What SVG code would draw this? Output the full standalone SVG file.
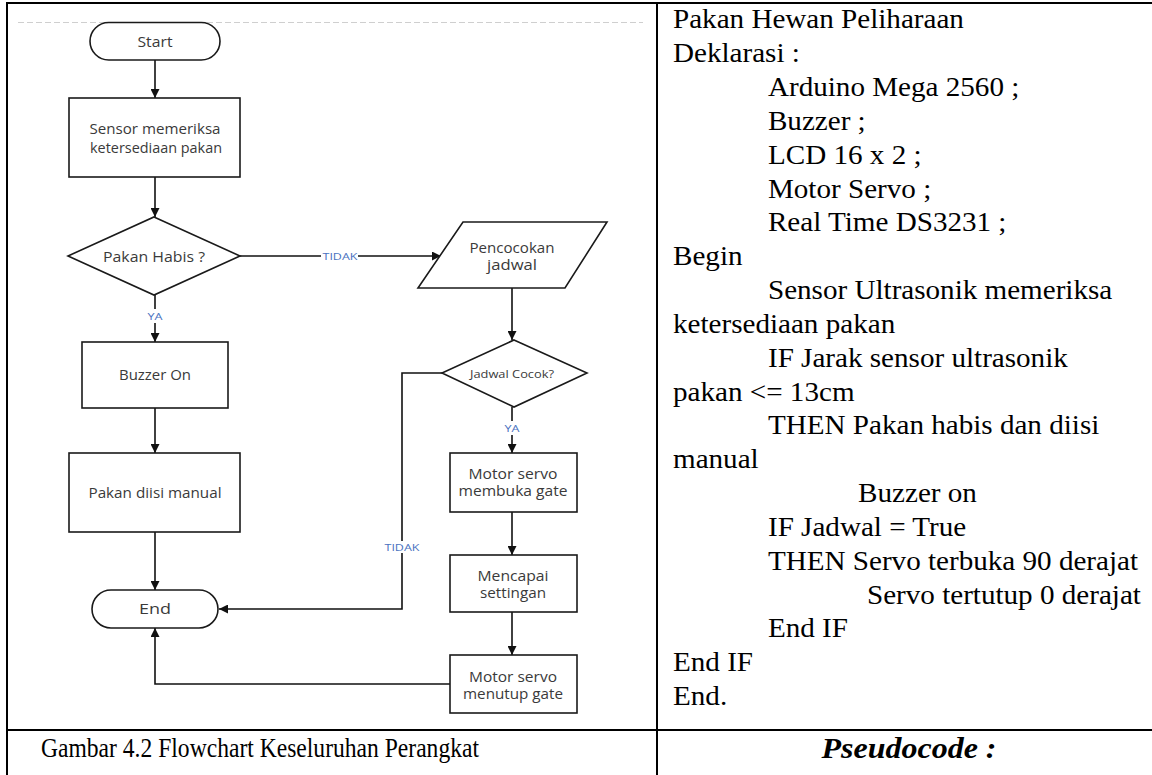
<svg xmlns="http://www.w3.org/2000/svg" width="1152" height="775" viewBox="0 0 1152 775">
<defs>
<marker id="arr" markerWidth="9" markerHeight="9" refX="9" refY="4.5" orient="auto" markerUnits="userSpaceOnUse">
<path d="M0,0 L9,4.5 L0,9 z" fill="#111"/>
</marker>
<style>
.shape{fill:#fff;stroke:#1a1a1a;stroke-width:1.6}
.lbl{font-family:"Open Sans","Liberation Sans",sans-serif;font-size:14px;fill:#3a3a3a;text-anchor:middle;dominant-baseline:central}
.sm{font-size:11.5px}
.cond{font-family:"Open Sans","Liberation Sans",sans-serif;font-size:9.5px;fill:#4a72c0;text-anchor:middle;dominant-baseline:central}
.conn{fill:none;stroke:#111;stroke-width:1.6}
.tbl{stroke:#000;stroke-width:2;fill:none}
.code{font-family:"Liberation Serif","Times New Roman",serif;font-size:28px;fill:#000}
</style>
</defs>
<rect width="1152" height="775" fill="#fff"/>

<g id="table">
<line class="tbl" x1="6" y1="3" x2="1152" y2="3"/>
<line class="tbl" x1="7" y1="3" x2="7" y2="775"/>
<line class="tbl" x1="657" y1="3" x2="657" y2="775"/>
<line class="tbl" x1="6" y1="730" x2="1152" y2="730"/>
<line x1="18" y1="22.5" x2="643" y2="22.5" stroke="#cfcfcf" stroke-width="1" stroke-dasharray="6 3"/>
</g>

<g id="connectors">
<line class="conn" x1="155" y1="60" x2="155" y2="98" marker-end="url(#arr)"/>
<line class="conn" x1="155" y1="177" x2="155" y2="217" marker-end="url(#arr)"/>
<line class="conn" x1="155" y1="295" x2="155" y2="309"/>
<line class="conn" x1="155" y1="323" x2="155" y2="342" marker-end="url(#arr)"/>
<line class="conn" x1="155" y1="408" x2="155" y2="453" marker-end="url(#arr)"/>
<line class="conn" x1="155" y1="532" x2="155" y2="590" marker-end="url(#arr)"/>
<line class="conn" x1="240" y1="256" x2="321" y2="256"/>
<line class="conn" x1="358" y1="256" x2="441" y2="256" marker-end="url(#arr)"/>
<line class="conn" x1="512" y1="288" x2="512" y2="340" marker-end="url(#arr)"/>
<line class="conn" x1="512" y1="407" x2="512" y2="421"/>
<line class="conn" x1="512" y1="435" x2="512" y2="453" marker-end="url(#arr)"/>
<line class="conn" x1="512" y1="512" x2="512" y2="555" marker-end="url(#arr)"/>
<line class="conn" x1="512" y1="612" x2="512" y2="655" marker-end="url(#arr)"/>
<polyline class="conn" points="450,684 155,684 155,628" marker-end="url(#arr)"/>
<polyline class="conn" points="442,373 402,373 402,541"/>
<polyline class="conn" points="402,553 402,609 219,609" marker-end="url(#arr)"/>
<text class="cond" x="155" y="316" textLength="15" lengthAdjust="spacingAndGlyphs">YA</text>
<text class="cond" x="340" y="256" textLength="35" lengthAdjust="spacingAndGlyphs">TIDAK</text>
<text class="cond" x="512" y="428" textLength="15" lengthAdjust="spacingAndGlyphs">YA</text>
<text class="cond" x="402" y="547" textLength="35" lengthAdjust="spacingAndGlyphs">TIDAK</text>
</g>

<g id="start">
<rect class="shape" x="90" y="22.5" width="130" height="37.5" rx="18.75"/>
<text class="lbl" x="155" y="41.5" textLength="35" lengthAdjust="spacingAndGlyphs">Start</text>
</g>
<g id="sensor">
<rect class="shape" x="69" y="98" width="171" height="79"/>
<text class="lbl" x="155" y="128" textLength="131" lengthAdjust="spacingAndGlyphs">Sensor memeriksa</text>
<text class="lbl" x="156" y="147" textLength="132" lengthAdjust="spacingAndGlyphs">ketersediaan pakan</text>
</g>
<g id="pakan-habis">
<polygon class="shape" points="154,217 240,256 154,295 68,256"/>
<text class="lbl" x="154" y="256" textLength="102" lengthAdjust="spacingAndGlyphs">Pakan Habis ?</text>
</g>
<g id="buzzer">
<rect class="shape" x="82" y="342" width="146" height="66"/>
<text class="lbl" x="155" y="374" textLength="72" lengthAdjust="spacingAndGlyphs">Buzzer On</text>
</g>
<g id="pakan-diisi">
<rect class="shape" x="69" y="453" width="171" height="79"/>
<text class="lbl" x="155" y="492" textLength="133" lengthAdjust="spacingAndGlyphs">Pakan diisi manual</text>
</g>
<g id="end">
<rect class="shape" x="92" y="590" width="126" height="38" rx="19"/>
<text class="lbl" x="155" y="608.5" textLength="32" lengthAdjust="spacingAndGlyphs">End</text>
</g>
<g id="pencocokan">
<polygon class="shape" points="463,222 607,222 565,288 418,288"/>
<text class="lbl" x="512" y="247" textLength="85" lengthAdjust="spacingAndGlyphs">Pencocokan</text>
<text class="lbl" x="512" y="264" textLength="50" lengthAdjust="spacingAndGlyphs">jadwal</text>
</g>
<g id="jadwal-cocok">
<polygon class="shape" points="514,340 587,373 514,407 442,373"/>
<text class="lbl sm" x="512" y="373" textLength="84" lengthAdjust="spacingAndGlyphs">Jadwal Cocok?</text>
</g>
<g id="servo-buka">
<rect class="shape" x="450" y="453" width="127" height="59"/>
<text class="lbl" x="513" y="473" textLength="89" lengthAdjust="spacingAndGlyphs">Motor servo</text>
<text class="lbl" x="513" y="490" textLength="109" lengthAdjust="spacingAndGlyphs">membuka gate</text>
</g>
<g id="mencapai">
<rect class="shape" x="450" y="555" width="127" height="57"/>
<text class="lbl" x="513" y="575" textLength="71" lengthAdjust="spacingAndGlyphs">Mencapai</text>
<text class="lbl" x="513" y="592" textLength="66" lengthAdjust="spacingAndGlyphs">settingan</text>
</g>
<g id="servo-tutup">
<rect class="shape" x="450" y="655" width="127" height="58"/>
<text class="lbl" x="513" y="676" textLength="88" lengthAdjust="spacingAndGlyphs">Motor servo</text>
<text class="lbl" x="513" y="693" textLength="100" lengthAdjust="spacingAndGlyphs">menutup gate</text>
</g>

<g id="pseudocode">
<g transform="translate(673 0) scale(1.04 1)">
<text class="code" x="0" y="28.5">Pakan Hewan Peliharaan</text>
<text class="code" x="0" y="62.3">Deklarasi :</text>
<text class="code" x="91.3" y="96.2">Arduino Mega 2560 ;</text>
<text class="code" x="91.3" y="130">Buzzer ;</text>
<text class="code" x="91.3" y="163.8">LCD 16 x 2 ;</text>
<text class="code" x="91.3" y="197.7">Motor Servo ;</text>
<text class="code" x="91.3" y="231.5">Real Time DS3231 ;</text>
<text class="code" x="0" y="265.3">Begin</text>
<text class="code" x="91.3" y="299.1">Sensor Ultrasonik memeriksa</text>
<text class="code" x="0" y="333">ketersediaan pakan</text>
<text class="code" x="91.3" y="366.8">IF Jarak sensor ultrasonik</text>
<text class="code" x="0" y="400.6">pakan &lt;= 13cm</text>
<text class="code" x="91.3" y="434.5">THEN Pakan habis dan diisi</text>
<text class="code" x="0" y="468.3">manual</text>
<text class="code" x="178" y="502.1">Buzzer on</text>
<text class="code" x="91.3" y="536">IF Jadwal = True</text>
<text class="code" x="91.3" y="569.8">THEN Servo terbuka 90 derajat</text>
<text class="code" x="186.5" y="603.6">Servo tertutup 0 derajat</text>
<text class="code" x="91.3" y="637.4">End IF</text>
<text class="code" x="0" y="671.3">End IF</text>
<text class="code" x="0" y="705.1">End.</text>
</g>
</g>

<g id="captions">
<text x="41" y="757" font-family="Liberation Serif, Times New Roman, serif" font-size="28" fill="#000" textLength="438" lengthAdjust="spacingAndGlyphs">Gambar 4.2 Flowchart Keseluruhan Perangkat</text>
<text x="909" y="758" font-family="Liberation Serif, Times New Roman, serif" font-size="30" font-weight="bold" font-style="italic" fill="#000" text-anchor="middle" textLength="175" lengthAdjust="spacingAndGlyphs">Pseudocode :</text>
</g>
</svg>
